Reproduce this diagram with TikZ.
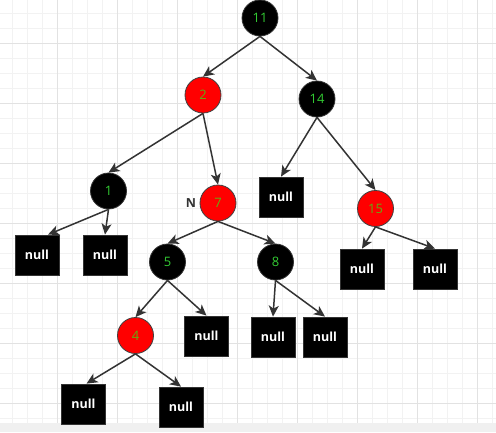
\documentclass[tikz,border=0pt]{standalone}
\usepackage{fontspec}
\setmainfont{Open Sans}
\usetikzlibrary{arrows.meta}
\definecolor{edgec}{HTML}{333333}
\definecolor{gminor}{HTML}{F2F2F2}
\definecolor{gmajor}{HTML}{E2E2E2}
\definecolor{txtg}{HTML}{33CC33}
\definecolor{txtr}{HTML}{60B010}
\definecolor{rednode}{HTML}{FF0000}
\tikzset{
  blk/.style={circle, fill=black, draw=black!80, line width=0.8pt, minimum size=36pt, inner sep=0pt, text=txtg, font=\fontsize{13}{13}\selectfont},
  rd/.style={circle, fill=rednode, draw=black!75, line width=0.8pt, minimum size=36pt, inner sep=0pt, text=txtr, font=\fontsize{13}{13}\selectfont},
  nul/.style={rectangle, fill=black, draw=edgec, line width=0.8pt, minimum width=44pt, minimum height=40pt, inner sep=0pt, text=white, font=\fontsize{12.5}{12.5}\selectfont\bfseries},
  edge/.style={draw=edgec, line width=1.5pt, -{Stealth[length=11pt, width=10pt, inset=3pt]}},
  lbl/.style={text=edgec, font=\fontsize{12.5}{12.5}\selectfont\bfseries, inner sep=0pt}
}
\begin{document}
\begin{tikzpicture}[x=1pt, y=-1pt]
\useasboundingbox (0,0) rectangle (496,432);
\fill[white] (0,0) rectangle (496,432);
% grid
\foreach \i in {0,...,32} {
  \draw[gminor, line width=0.8pt] ({12.5+15*\i},0) -- ({12.5+15*\i},432);
}
\foreach \j in {0,...,28} {
  \draw[gminor, line width=0.8pt] (0,{13+15*\j}) -- (496,{13+15*\j});
}
\foreach \i in {0,...,7} {
  \draw[gmajor, line width=0.8pt] ({57.5+60*\i},0) -- ({57.5+60*\i},432);
}
\foreach \j in {0,...,6} {
  \draw[gmajor, line width=0.8pt] (0,{43+60*\j}) -- (496,{43+60*\j});
}
\fill[gray!12] (0,423) rectangle (496,432);
% nodes
\node[blk] (n11) at (260,18) {11};
\node[rd]  (n2)  at (203,95) {2};
\node[blk] (n14) at (317,99) {14};
\node[blk] (n1)  at (108.5,191) {1};
\node[rd]  (n7)  at (218,203) {7};
\node[lbl] (lN)  at (191,203) {N};
\node[nul] (z14) at (281,197) {null};
\node[rd]  (n15) at (375.5,208.5) {15};
\node[nul] (z15a) at (362,269) {null};
\node[nul] (z15b) at (435,269) {null};
\node[nul] (z1a) at (37,255) {null};
\node[nul] (z1b) at (105,255) {null};
\node[blk] (n5)  at (167.5,262) {5};
\node[blk] (n8)  at (275.5,262) {8};
\node[rd]  (n4)  at (135.5,335.5) {4};
\node[nul] (z5)  at (206.5,336) {null};
\node[nul] (z8a) at (273,337) {null};
\node[nul] (z8b) at (325,337) {null};
\node[nul] (z4a) at (83.5,404) {null};
\node[nul] (z4b) at (181,407) {null};
% edges
\draw[edge] (n11.south) -- (n2.north);
\draw[edge] (n11.south) -- (n14.north);
\draw[edge] (n2.south) -- (n1.north);
\draw[edge] (n2.south) -- (n7.north);
\draw[edge] (n14.south) -- (z14.north);
\draw[edge] (n14.south) -- (n15.north);
\draw[edge] (n1.south) -- ([xshift=11pt]z1a.north);
\draw[edge] (n1.south) -- (z1b.north);
\draw[edge] (n7.south) -- (n5.north);
\draw[edge] (n7.south) -- (n8.north);
\draw[edge] (n15.south) -- (z15a.north);
\draw[edge] (n15.south) -- (z15b.north);
\draw[edge] (n5.south) -- (n4.north);
\draw[edge] (n5.south) -- (z5.north);
\draw[edge] (n8.south) -- (z8a.north);
\draw[edge] (n8.south) -- (z8b.north);
\draw[edge] (n4.south) -- ([xshift=3pt]z4a.north);
\draw[edge] (n4.south) -- (z4b.north);
\end{tikzpicture}
\end{document}
